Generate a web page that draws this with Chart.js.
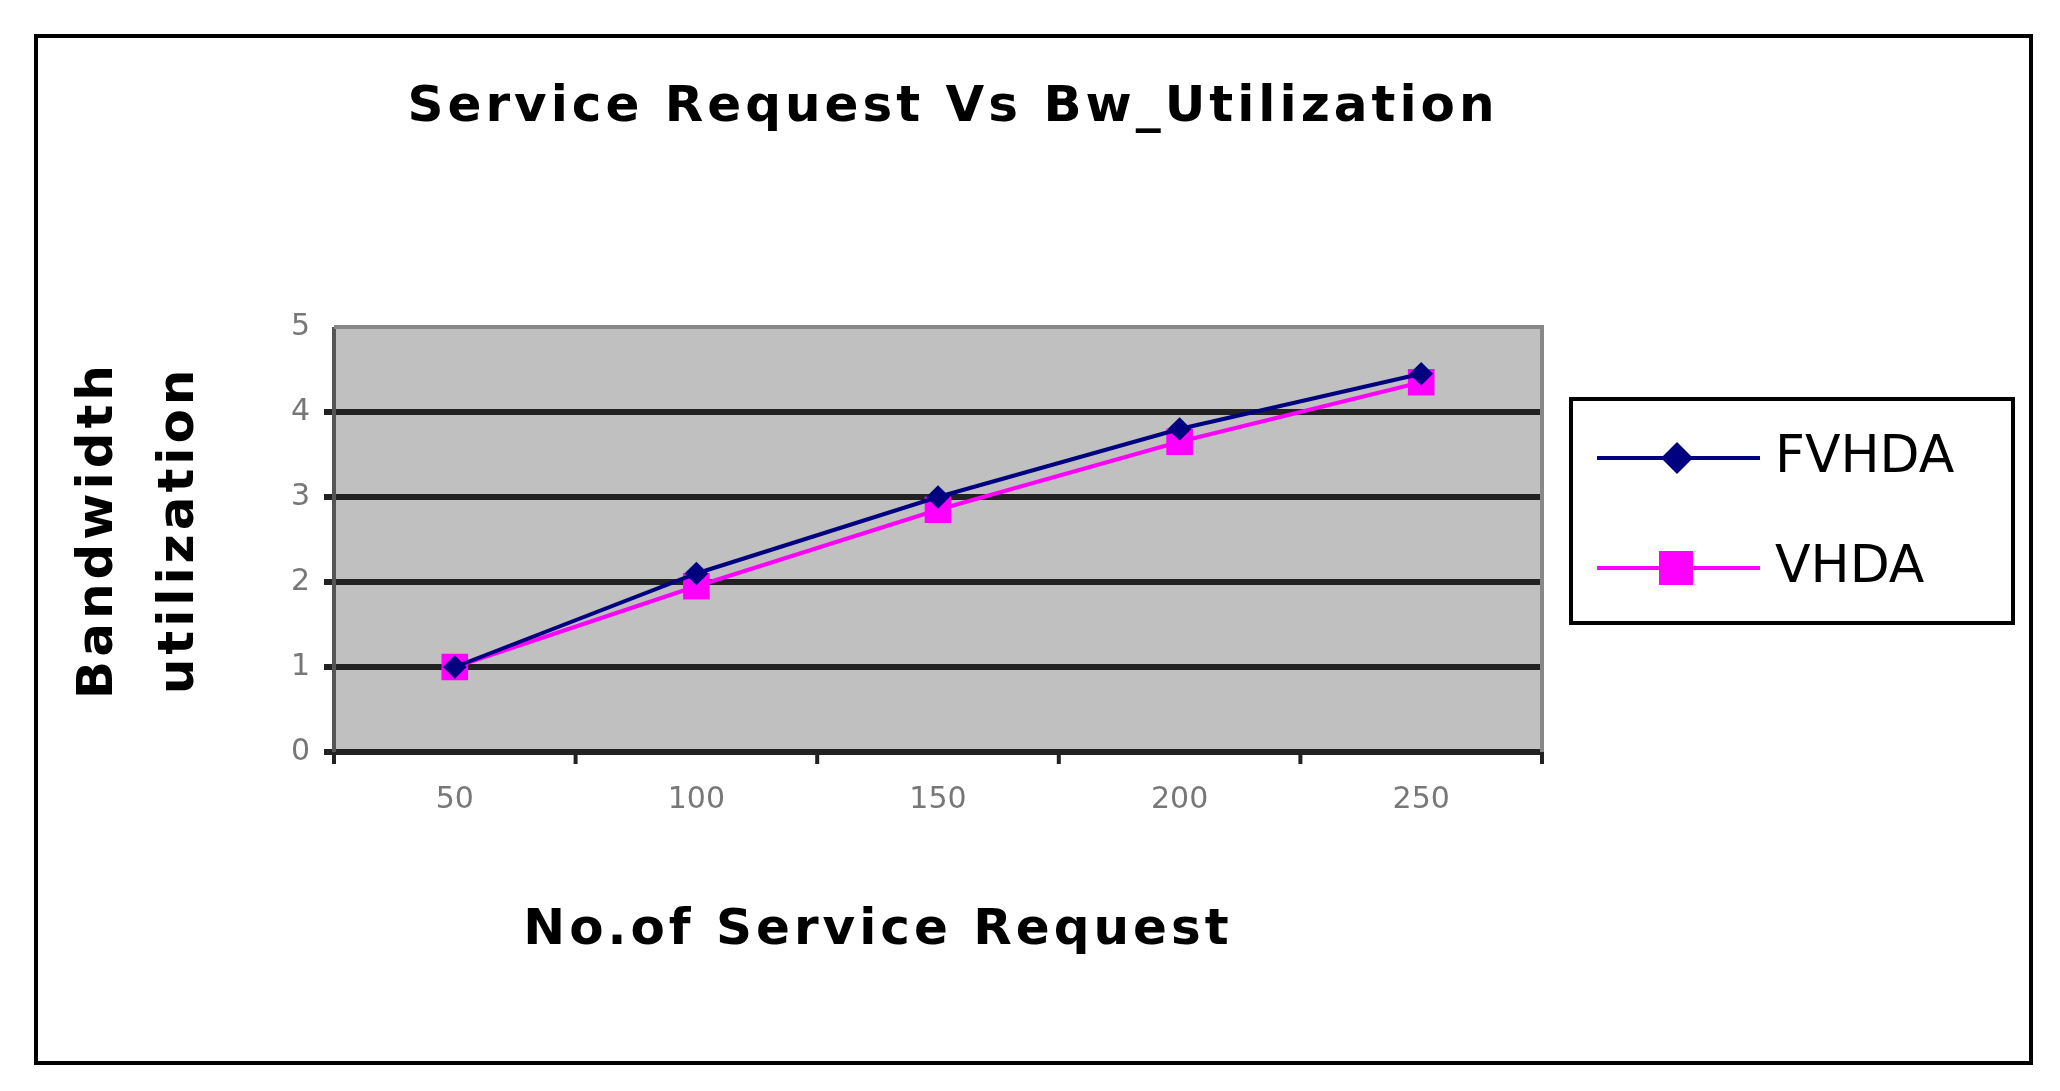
<!DOCTYPE html>
<html>
<head>
<script src="https://cdn.jsdelivr.net/npm/chart.js@4"></script>
<style>
  body { margin: 0; background: #fff; }
</style>
</head>
<body>
<canvas id="myChart" width="2060" height="1091"></canvas>
<script>
const requests = ['50', '100', '150', '200', '250'];
const fvhda = [1.0, 2.1, 3.0, 3.8, 4.45];
const vhda = [1.0, 1.95, 2.85, 3.65, 4.35];
const yTicks = [0, 1, 2, 3, 4, 5];

// gray plot area, outer frame, titles and boxed legend
const decor = {
    id: 'decor',
    beforeDatasetsDraw(chart) {
        const a = chart.chartArea;
        const ctx = chart.ctx;
        ctx.save();
        ctx.fillStyle = '#c0c0c0';
        ctx.fillRect(a.left, a.top, a.right - a.left, a.bottom - a.top);
        const y = chart.scales.y;
        ctx.strokeStyle = '#222';
        ctx.lineWidth = 6;
        yTicks.forEach(function (t) {
            if (t === 5) return;
            const py = y.getPixelForValue(t);
            ctx.beginPath(); ctx.moveTo(a.left - 10, py); ctx.lineTo(a.right, py); ctx.stroke();
        });
        ctx.lineWidth = 4;
        ctx.strokeStyle = '#555';
        ctx.beginPath(); ctx.moveTo(a.left, a.top); ctx.lineTo(a.left, a.bottom); ctx.stroke();
        ctx.strokeStyle = '#888';
        ctx.beginPath(); ctx.moveTo(a.left, a.top); ctx.lineTo(a.right, a.top); ctx.lineTo(a.right, a.bottom); ctx.stroke();
        // x ticks
        ctx.strokeStyle = '#222';
        ctx.lineWidth = 4;
        const step = (a.right - a.left) / requests.length;
        for (let i = 0; i <= requests.length; i++) {
            const px = a.left + step * i;
            ctx.beginPath(); ctx.moveTo(px, a.bottom); ctx.lineTo(px, a.bottom + 12); ctx.stroke();
        }
        ctx.restore();
    },
    afterDraw(chart) {
        const ctx = chart.ctx;
        ctx.save();
        ctx.strokeStyle = '#000';
        ctx.lineWidth = 4;
        ctx.strokeRect(36, 36, 1995, 1027);
        ctx.fillStyle = '#000';
        ctx.textAlign = 'center';
        ctx.textBaseline = 'middle';
        ctx.font = 'bold 50px "DejaVu Sans"';
        ctx.letterSpacing = '4px';
        ctx.fillText('Service Request Vs Bw_Utilization', 953, 108);
        ctx.fillText('No.of Service Request', 878, 931);
        ctx.save();
        ctx.translate(99, 530);
        ctx.rotate(-Math.PI / 2);
        ctx.fillText('Bandwidth', 0, 0);
        ctx.restore();
        ctx.save();
        ctx.translate(180, 530);
        ctx.rotate(-Math.PI / 2);
        ctx.fillText('utilization', 0, 0);
        ctx.restore();
        ctx.letterSpacing = '0px';
        // legend
        ctx.lineWidth = 4;
        ctx.strokeRect(1571, 399, 442, 224);
        ctx.font = '52px "DejaVu Sans"';
        ctx.textAlign = 'left';
        chart.data.datasets.forEach(function (ds, i) {
            const ly = 458 + i * 110;
            ctx.strokeStyle = ds.borderColor;
            ctx.lineWidth = 4;
            ctx.beginPath(); ctx.moveTo(1597, ly); ctx.lineTo(1760, ly); ctx.stroke();
            ctx.fillStyle = ds.backgroundColor;
            if (i === 0) {
                ctx.beginPath();
                ctx.moveTo(1677, ly - 16); ctx.lineTo(1693, ly); ctx.lineTo(1677, ly + 16); ctx.lineTo(1661, ly);
                ctx.closePath(); ctx.fill();
            } else {
                ctx.fillRect(1659, ly - 17, 34, 34);
            }
            ctx.fillStyle = '#000';
            ctx.fillText(ds.label, 1775, ly);
        });
        ctx.restore();
    }
};

new Chart(document.getElementById('myChart').getContext('2d'), {
    type: 'line',
    data: {
        labels: requests,
        datasets: [{
            label: 'FVHDA',
            data: fvhda,
            borderColor: '#000080',
            backgroundColor: '#000080',
            borderWidth: 4,
            pointStyle: 'rectRot',
            pointRadius: 9
        }, {
            label: 'VHDA',
            data: vhda,
            borderColor: '#ff00ff',
            backgroundColor: '#ff00ff',
            borderWidth: 4,
            pointStyle: 'rect',
            pointRadius: 16
        }]
    },
    options: {
        responsive: false,
        animation: false,
        layout: { padding: { left: 274, right: 518, top: 327, bottom: 259 } },
        plugins: { legend: { display: false }, title: { display: false }, tooltip: { enabled: false } },
        scales: {
            x: {
                offset: true,
                grid: { display: false },
                border: { display: false },
                ticks: { color: '#777', font: { size: 30, family: 'DejaVu Sans' }, padding: 22 },
                afterFit(s) { s.height = 80; }
            },
            y: {
                min: 0, max: 5,
                afterBuildTicks(s) { s.ticks = yTicks.map(function (v) { return { value: v }; }); },
                grid: { display: false },
                border: { display: false },
                ticks: { color: '#777', font: { size: 30, family: 'DejaVu Sans' }, padding: 16 },
                afterFit(s) { s.width = 60; }
            }
        }
    },
    plugins: [decor]
});
</script>
</body>
</html>
